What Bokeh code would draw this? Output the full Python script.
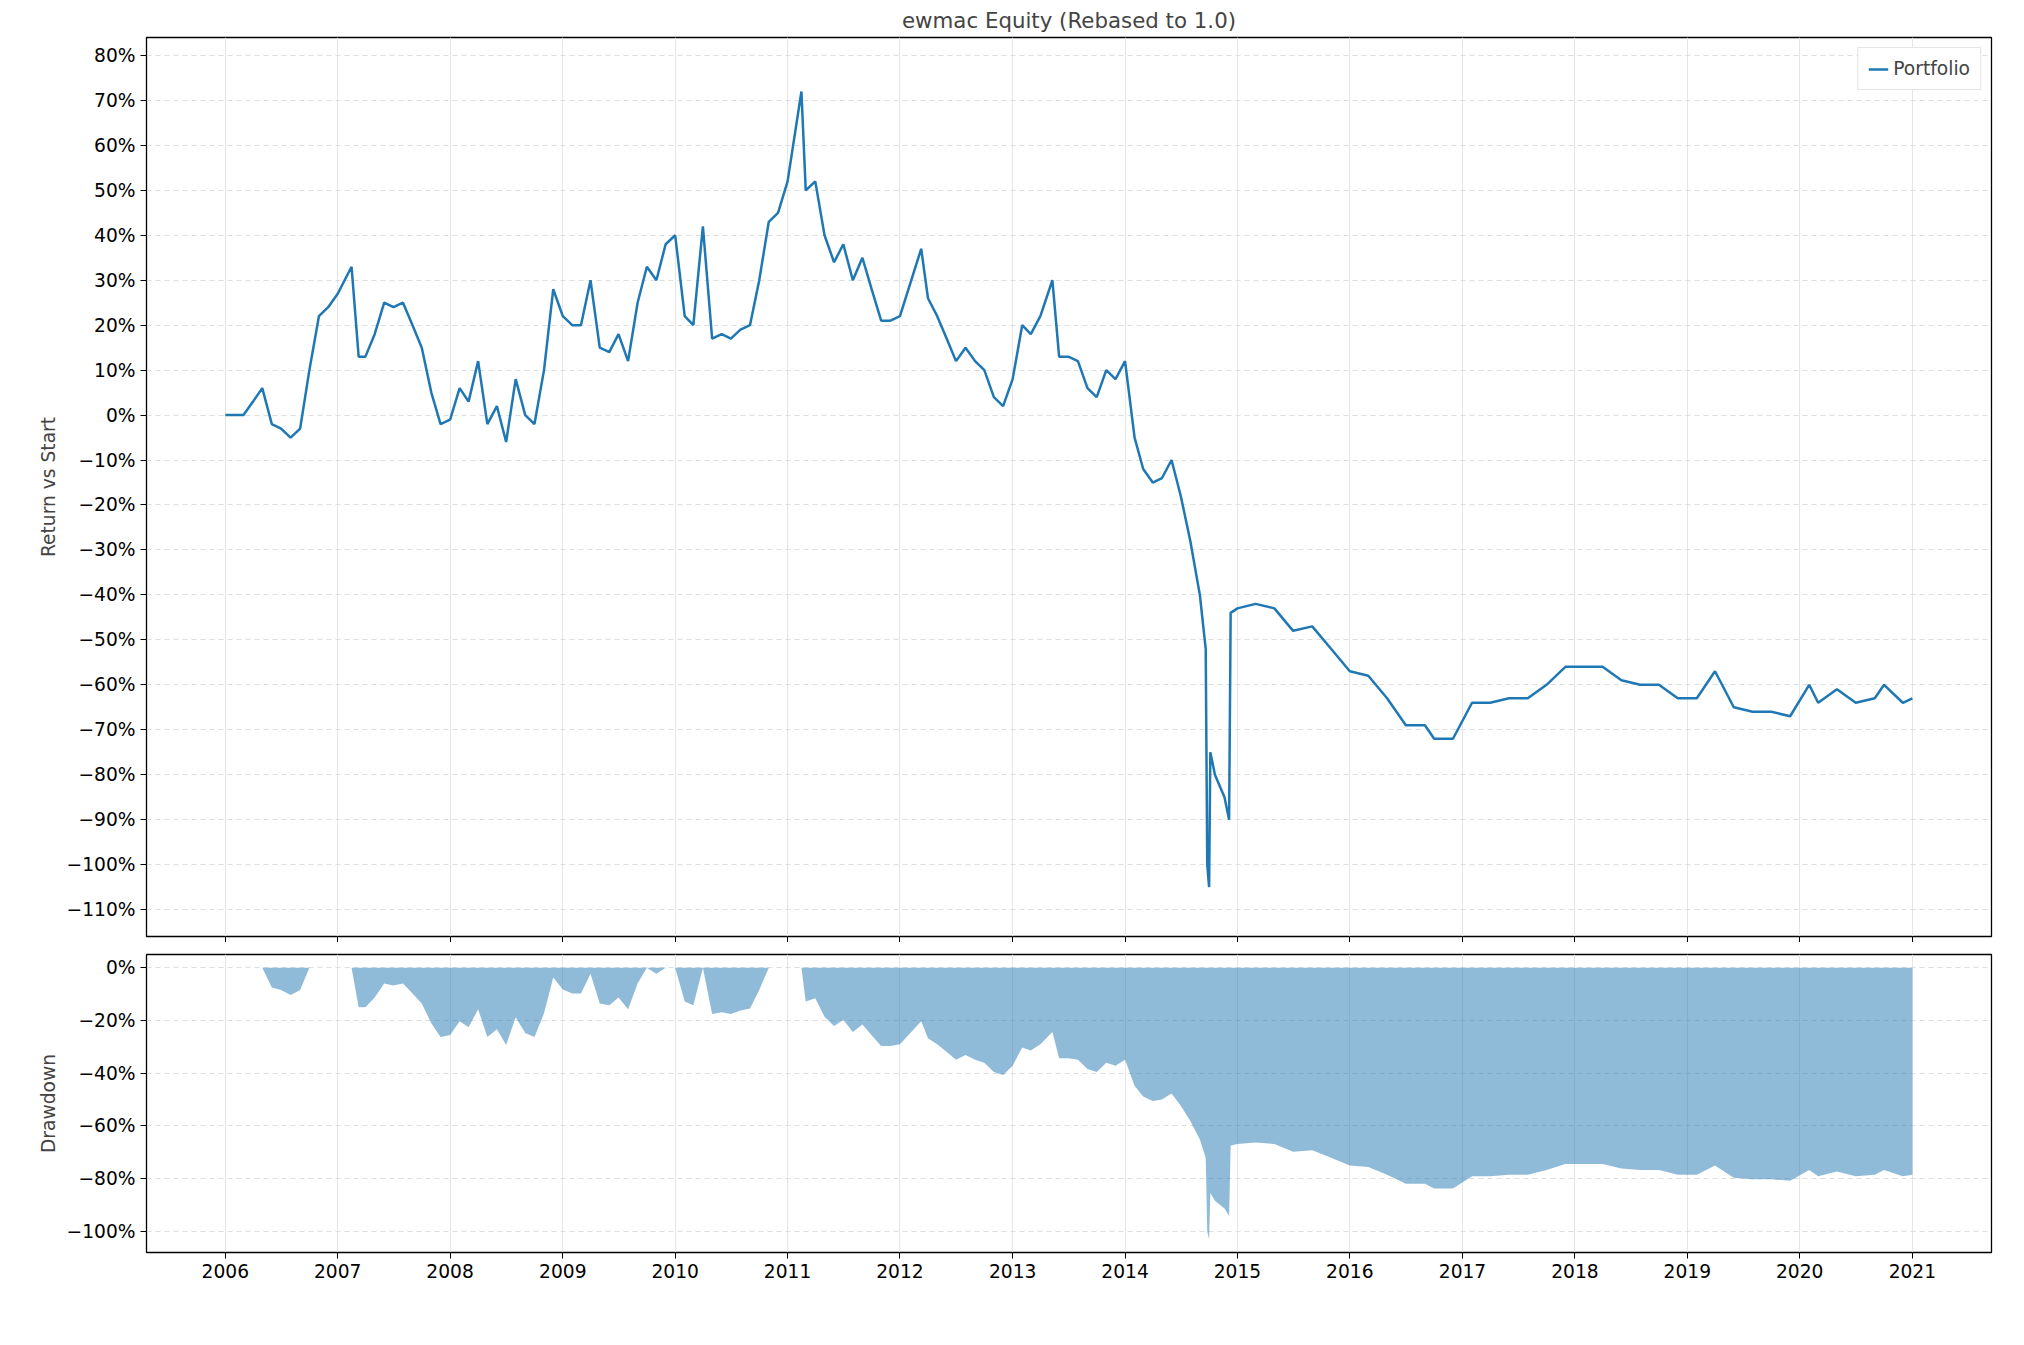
import numpy as np
import pandas as pd
from bokeh.plotting import figure
from bokeh.layouts import column
from bokeh.models import FixedTicker, Legend, LegendItem
from bokeh.embed import file_html
from bokeh.resources import INLINE

# equity curve, return vs start in percent
dates = ["2006-01-01", "2006-03-01", "2006-04-01", "2006-05-01", "2006-06-01", "2006-07-01", "2006-08-01",
         "2006-09-01", "2006-10-01", "2006-11-01", "2006-12-01", "2007-01-01", "2007-02-15", "2007-03-10",
         "2007-04-01", "2007-05-01", "2007-06-01", "2007-07-01", "2007-08-01", "2007-09-01", "2007-10-01",
         "2007-11-01", "2007-12-01", "2008-01-01", "2008-02-01", "2008-03-01", "2008-04-01", "2008-05-01",
         "2008-06-01", "2008-07-01", "2008-08-01", "2008-09-01", "2008-10-01", "2008-11-01", "2008-12-01",
         "2009-01-01", "2009-02-01", "2009-03-01", "2009-04-01", "2009-05-01", "2009-06-01", "2009-07-01",
         "2009-08-01", "2009-09-01", "2009-10-01", "2009-11-01", "2009-12-01", "2010-01-01", "2010-02-01",
         "2010-03-01", "2010-04-01", "2010-05-01", "2010-06-01", "2010-07-01", "2010-08-01", "2010-09-01",
         "2010-10-01", "2010-11-01", "2010-12-01", "2011-01-01", "2011-02-15", "2011-03-01", "2011-04-01",
         "2011-05-01", "2011-06-01", "2011-07-01", "2011-08-01", "2011-09-01", "2011-10-01", "2011-11-01",
         "2011-12-01", "2012-01-01", "2012-03-10", "2012-04-01", "2012-05-01", "2012-06-01", "2012-07-01",
         "2012-08-01", "2012-09-01", "2012-10-01", "2012-11-01", "2012-12-01", "2013-01-01", "2013-02-01",
         "2013-03-01", "2013-04-01", "2013-05-10", "2013-06-01", "2013-07-01", "2013-08-01", "2013-09-01",
         "2013-10-01", "2013-11-01", "2013-12-01", "2014-01-01", "2014-02-01", "2014-03-01", "2014-04-01",
         "2014-05-01", "2014-06-01", "2014-07-01", "2014-08-01", "2014-09-01", "2014-09-20", "2014-09-25",
         "2014-10-01", "2014-10-05", "2014-10-20", "2014-11-20", "2014-12-05", "2014-12-10", "2015-01-01",
         "2015-03-01", "2015-05-01", "2015-07-01", "2015-09-01", "2015-11-01", "2016-01-01", "2016-03-01",
         "2016-05-01", "2016-07-01", "2016-09-01", "2016-10-01", "2016-12-01", "2017-02-01", "2017-04-01",
         "2017-06-01", "2017-08-01", "2017-10-01", "2017-12-01", "2018-02-01", "2018-04-01", "2018-06-01",
         "2018-08-01", "2018-10-01", "2018-12-01", "2019-02-01", "2019-04-01", "2019-06-01", "2019-08-01",
         "2019-10-01", "2019-12-01", "2020-02-01", "2020-03-01", "2020-05-01", "2020-07-01", "2020-09-01",
         "2020-10-01", "2020-12-01", "2021-01-01"]
returns = [0, 0, 3, 6, -2, -3, -5, -3, 10, 22, 24, 27, 33, 13, 13, 18, 25, 24, 25, 20, 15, 5, -2, -1, 6, 3,
           12, -2, 2, -6, 8, 0, -2, 10, 28, 22, 20, 20, 30, 15, 14, 18, 12, 25, 33, 30, 38, 40, 22, 20, 42, 17,
           18, 17, 19, 20, 30, 43, 45, 52, 72, 50, 52, 40, 34, 38, 30, 35, 28, 21, 21, 22, 37, 26, 22, 17, 12,
           15, 12, 10, 4, 2, 8, 20, 18, 22, 30, 13, 13, 12, 6, 4, 10, 8, 12, -5, -12, -15, -14, -10, -18, -28,
           -40, -52, -100, -105, -75, -80, -85, -90, -44, -43, -42, -43, -48, -47, -52, -57, -58, -63, -69, -69,
           -72, -72, -64, -64, -63, -63, -60, -56, -56, -56, -59, -60, -60, -63, -63, -57, -65, -66, -66, -67,
           -60, -64, -61, -64, -63, -60, -64, -63]
years = list(range(2006, 2022))

x = pd.to_datetime(dates)
r = np.array(returns) / 100.0
wealth = 1 + r
drawdown = (wealth / np.maximum.accumulate(wealth) - 1) * 100

blue = "#1f77b4"
year_ms = [pd.Timestamp(f"{y}-01-01").value / 1e6 for y in years]
xr = (pd.Timestamp("2005-04-20"), pd.Timestamp("2021-09-15"))
FS = "14pt"


def pct(v):
    return (f"{v}%").replace("-", "\u2212")


def style(p, ticks):
    p.xaxis.ticker = FixedTicker(ticks=year_ms)
    p.xgrid.ticker = FixedTicker(ticks=year_ms)
    p.xgrid.grid_line_color = "#e6e6e6"
    p.yaxis.ticker = FixedTicker(ticks=ticks)
    p.yaxis.major_label_overrides = {t: pct(t) for t in ticks}
    p.ygrid.grid_line_color = "#dddddd"
    p.ygrid.grid_line_dash = "5 4"
    p.outline_line_color = "black"
    p.outline_line_width = 1.3
    for ax in [p.xaxis, p.yaxis]:
        ax.major_label_text_font_size = FS
        ax.major_label_text_font = "DejaVu Sans"
        ax.major_label_text_color = "black"
        ax.axis_label_text_font = "DejaVu Sans"
        ax.axis_label_text_font_size = FS
        ax.axis_label_text_font_style = "normal"
        ax.minor_tick_line_color = None
        ax.major_tick_out = 6
        ax.major_tick_in = 0
        ax.axis_line_color = None


top = figure(x_axis_type="datetime", frame_width=1845, frame_height=899, x_range=xr, y_range=(-116, 84),
             output_backend="svg", toolbar_location=None, min_border_left=146, min_border_right=14)
top.title.text = "ewmac Equity (Rebased to 1.0)"
top.title.align = "center"
top.title.text_font = "DejaVu Sans"
top.title.text_font_size = "16pt"
top.title.text_font_style = "normal"
ln = top.line(x, returns, color=blue, line_width=2.5)
top.yaxis.axis_label = "Return vs Start"
style(top, list(range(-110, 81, 10)))
top.xaxis.major_label_overrides = {t: "" for t in year_ms}
leg = Legend(items=[LegendItem(label="Portfolio", renderers=[ln])], location="top_right",
             label_text_font="DejaVu Sans", label_text_font_size=FS, border_line_color="#cccccc")
top.add_layout(leg)

bot = figure(x_axis_type="datetime", frame_width=1845, frame_height=298, x_range=top.x_range,
             y_range=(-108, 5), output_backend="svg", toolbar_location=None, min_border_left=146,
             min_border_right=14, min_border_top=12)
bot.varea(x=x, y1=0, y2=drawdown, color=blue, alpha=0.5)
bot.yaxis.axis_label = "Drawdown"
style(bot, list(range(-100, 1, 20)))
bot.xaxis.major_label_overrides = {t: str(y) for t, y in zip(year_ms, years)}

layout = column(top, bot, spacing=0)
open("out.html", "w").write(file_html(layout, INLINE))
